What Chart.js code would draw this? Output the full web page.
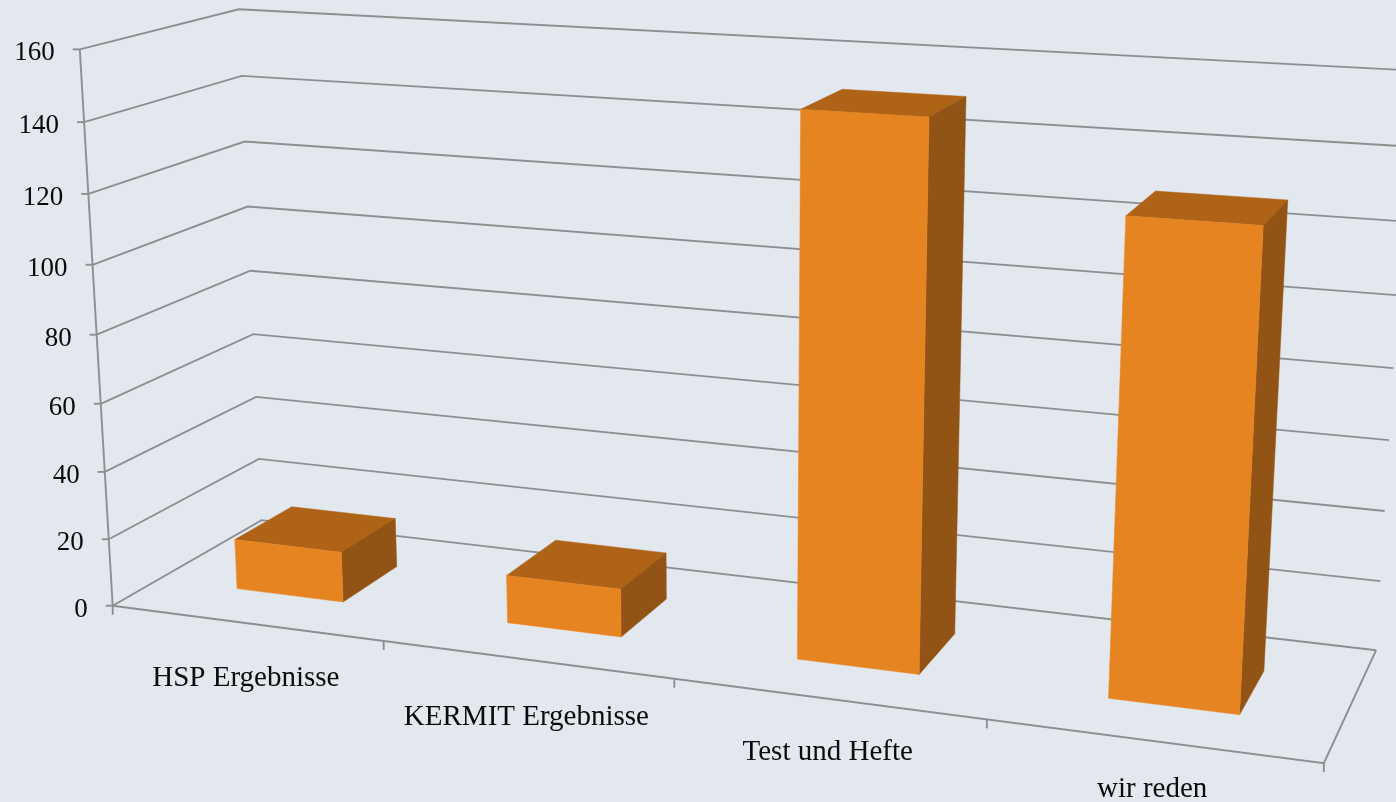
<!DOCTYPE html>
<html>
<head>
<meta charset="utf-8">
<title>Ergebnisse</title>
<script src="https://cdn.jsdelivr.net/npm/chart.js@4"></script>
<style>
    html, body { margin: 0; padding: 0; background: #E3E8EF; overflow: hidden; }
    canvas { display: block; }
</style>
</head>
<body>
<canvas id="chart" width="1396" height="802"></canvas>
<script>
const categories = ["HSP Ergebnisse", "KERMIT Ergebnisse", "Test und Hefte", "wir reden"]
const values = [15, 14, 151, 129]
const axisMin = 0
const axisMax = 160
const axisStep = 20

const FRONT_COLOR = "#E68422"
const TOP_COLOR = "#AF6317"
const SIDE_COLOR = "#925414"
const GRID_COLOR = "#8E8E8E"
const TEXT_COLOR = "#0B0B0B"
const TICK_FONT = '27px "Liberation Serif"'
const LABEL_FONT = '29px "Liberation Serif"'

// box depth on the floor, 0 = front edge, 1 = back wall
const BAR_FRONT = 0.295
const BAR_BACK = 0.69

// box corners seen in the picture: u, v, w -> x, y
const calib = [
    [0, 0, 0, 113, 606],
    [1, 0, 0, 1324, 763],
    [0, 1, 0, 262, 520],
    [1, 1, 0, 1376, 651],
    [0, 0, 1, 80, 50],
    [0, 1, 1, 239, 9],
    [1, 1, 1, 1412, 71],
    [0, 0, 0.5, 96, 334],
    [0, 1, 0.5, 250, 271],
    [1, 1, 0.5, 1393, 367]
]

function solve(A, b) {
    const n = b.length
    for (let i = 0; i < n; i++) {
        let p = i
        for (let r = i + 1; r < n; r++) if (Math.abs(A[r][i]) > Math.abs(A[p][i])) p = r
        ;[A[i], A[p]] = [A[p], A[i]]
        ;[b[i], b[p]] = [b[p], b[i]]
        for (let r = i + 1; r < n; r++) {
            const f = A[r][i] / A[i][i]
            for (let c = i; c < n; c++) A[r][c] -= f * A[i][c]
            b[r] -= f * b[i]
        }
    }
    const x = new Array(n).fill(0)
    for (let i = n - 1; i >= 0; i--) {
        let s = b[i]
        for (let c = i + 1; c < n; c++) s -= A[i][c] * x[c]
        x[i] = s / A[i][i]
    }
    return x
}

// least squares fit of the 3d -> 2d projective map
function fitProjection(pts) {
    const rows = [], rhs = []
    pts.forEach(([u, v, w, x, y]) => {
        rows.push([u, v, w, 1, 0, 0, 0, 0, -x * u, -x * v, -x * w]); rhs.push(x)
        rows.push([0, 0, 0, 0, u, v, w, 1, -y * u, -y * v, -y * w]); rhs.push(y)
    })
    const N = Array.from({ length: 11 }, () => new Array(11).fill(0))
    const t = new Array(11).fill(0)
    rows.forEach((r, k) => {
        for (let i = 0; i < 11; i++) {
            t[i] += r[i] * rhs[k]
            for (let j = 0; j < 11; j++) N[i][j] += r[i] * r[j]
        }
    })
    return solve(N, t)
}

const m = fitProjection(calib)

function project(u, v, w) {
    const d = m[8] * u + m[9] * v + m[10] * w + 1
    return [
        (m[0] * u + m[1] * v + m[2] * w + m[3]) / d,
        (m[4] * u + m[5] * v + m[6] * w + m[7]) / d
    ]
}

function strokePath(ctx, pts) {
    ctx.beginPath()
    pts.forEach((p, i) => i ? ctx.lineTo(p[0], p[1]) : ctx.moveTo(p[0], p[1]))
    ctx.stroke()
}

function fillFace(ctx, pts, color) {
    ctx.fillStyle = color
    ctx.strokeStyle = color
    ctx.lineWidth = 0.5
    ctx.beginPath()
    pts.forEach((p, i) => i ? ctx.lineTo(p[0], p[1]) : ctx.moveTo(p[0], p[1]))
    ctx.closePath()
    ctx.fill()
    ctx.stroke()
}

const perspectivePlugin = {
    id: "perspective",
    afterDatasetsDraw(chart) {
        const ctx = chart.ctx
        const xs = chart.scales.x
        const ys = chart.scales.y
        const band = xs.width / categories.length
        const toU = px => (px - xs.left) / xs.width
        const toW = px => (ys.bottom - px) / ys.height

        ctx.save()

        // walls and floor
        ctx.strokeStyle = GRID_COLOR
        ctx.lineWidth = 1.9
        ys.ticks.forEach(t => {
            const w = toW(ys.getPixelForValue(t.value))
            strokePath(ctx, [project(0, 0, w), project(0, 1, w), project(1, 1, w)])
        })
        strokePath(ctx, [project(0, 0, 0), project(1, 0, 0), project(1, 1, 0)])
        strokePath(ctx, [project(0, 0, 0), project(0, 0, 1)])

        // axis tick marks
        ys.ticks.forEach(t => {
            const p = project(0, 0, toW(ys.getPixelForValue(t.value)))
            strokePath(ctx, [[p[0] - 7, p[1]], p])
        })
        for (let i = 0; i <= categories.length; i++) {
            const p = project(toU(xs.left + band * i), 0, 0)
            strokePath(ctx, [p, [p[0], p[1] + 9]])
        }

        // boxes
        chart.getDatasetMeta(0).data.forEach(bar => {
            const u0 = toU(bar.x - bar.width / 2)
            const u1 = toU(bar.x + bar.width / 2)
            const w = toW(bar.y)
            const a = BAR_FRONT, b = BAR_BACK
            fillFace(ctx, [project(u0, a, w), project(u1, a, w), project(u1, b, w), project(u0, b, w)], TOP_COLOR)
            fillFace(ctx, [project(u1, a, 0), project(u1, b, 0), project(u1, b, w), project(u1, a, w)], SIDE_COLOR)
            fillFace(ctx, [project(u0, a, 0), project(u1, a, 0), project(u1, a, w), project(u0, a, w)], FRONT_COLOR)
        })

        // labels
        ctx.fillStyle = TEXT_COLOR
        ctx.textBaseline = "middle"
        ctx.font = TICK_FONT
        ctx.textAlign = "right"
        ys.ticks.forEach(t => {
            const p = project(0, 0, toW(ys.getPixelForValue(t.value)))
            ctx.fillText(String(t.value), p[0] - 25, p[1] + 4)
        })
        ctx.font = LABEL_FONT
        ctx.textAlign = "center"
        const nudge = [3, 8, 5, 2]
        categories.forEach((label, i) => {
            const u = toU(xs.getPixelForValue(i))
            const p = project(u, 0, 0)
            ctx.fillText(label, p[0], p[1] + 53 - 7 * u + nudge[i])
        })

        ctx.restore()
    }
}

new Chart(document.getElementById("chart").getContext("2d"), {
    type: "bar",
    data: {
        labels: categories,
        datasets: [{
            data: values,
            backgroundColor: "rgba(0,0,0,0)",
            borderWidth: 0,
            barPercentage: 0.4,
            categoryPercentage: 1
        }]
    },
    options: {
        responsive: false,
        animation: false,
        plugins: { legend: { display: false }, tooltip: { enabled: false } },
        scales: {
            x: { display: false },
            y: { display: false, min: axisMin, max: axisMax, ticks: { stepSize: axisStep } }
        }
    },
    plugins: [perspectivePlugin]
})
</script>
</body>
</html>
